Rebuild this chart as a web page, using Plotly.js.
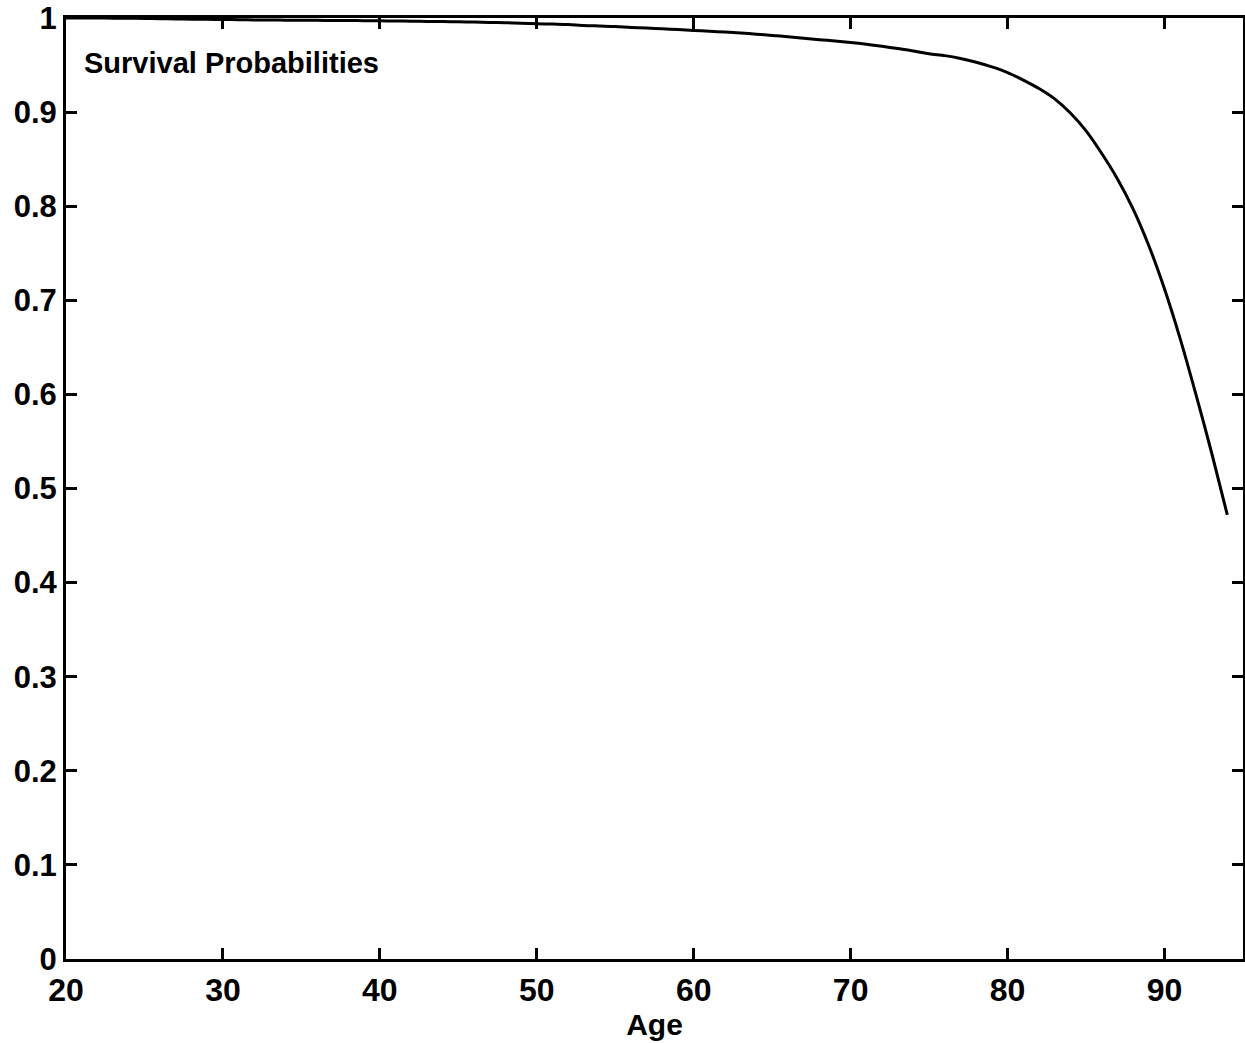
<!DOCTYPE html>
<html>
<head>
<meta charset="utf-8">
<script src="https://cdn.plot.ly/plotly-3.0.1.min.js"></script>
<style>html,body{margin:0;padding:0;background:#fff;}#chart{width:1245px;height:1043px;}</style>
</head>
<body>
<div id="chart"></div>
<script>
const ages = [20,21,22,23,24,25,26,27,28,29,30,31,32,33,34,35,36,37,38,39,40,41,42,43,44,45,46,47,48,49,50,51,52,53,54,55,56,57,58,59,60,61,62,63,64,65,66,67,68,69,70,71,72,73,74,75,76,77,78,79,80,81,82,83,84,85,86,87,88,89,90,91,92,93,94];
const survival = [1.0,1.0,1.0,0.9998,0.9997,0.9995,0.9993,0.999,0.9988,0.9986,0.9984,0.9982,0.998,0.9978,0.9977,0.9976,0.9975,0.9974,0.9973,0.9972,0.997,0.9968,0.9966,0.9964,0.9962,0.996,0.9957,0.9953,0.995,0.9945,0.994,0.9935,0.993,0.992,0.9915,0.991,0.990,0.9893,0.9885,0.9877,0.9868,0.986,0.985,0.984,0.9828,0.9815,0.980,0.9785,0.977,0.9755,0.974,0.9722,0.970,0.9675,0.965,0.962,0.960,0.957,0.953,0.948,0.942,0.934,0.925,0.914,0.899,0.880,0.856,0.829,0.797,0.758,0.712,0.659,0.600,0.538,0.472];
const xTicks = [20,30,40,50,60,70,80,90];
const yTicks = [0,0.1,0.2,0.3,0.4,0.5,0.6,0.7,0.8,0.9,1];
const yTickText = ['0','0.1','0.2','0.3','0.4','0.5','0.6','0.7','0.8','0.9','1'];
const labelText = 'Survival Probabilities';
const xTitle = 'Age';

const fontFam = 'Liberation Sans, Arial, sans-serif';
Plotly.newPlot('chart', [{
  x: ages, y: survival, type: 'scatter', mode: 'lines',
  line: {color: '#000', width: 3, shape: 'spline', smoothing: 0.8}, showlegend: false, hoverinfo: 'skip'
}], {
  width: 1245, height: 1043,
  margin: {l: 66, r: 2, t: 18, b: 84},
  paper_bgcolor: '#fff', plot_bgcolor: '#fff',
  xaxis: {
    range: [20, 95], tickvals: xTicks, ticktext: xTicks.map(String),
    ticks: 'inside', ticklen: 11, tickwidth: 3, tickcolor: '#000',
    showline: true, linewidth: 3, linecolor: '#000', mirror: 'ticks',
    showgrid: false, zeroline: false, ticklabelstandoff: 1,
    tickfont: {family: fontFam, size: 32, color: '#000', weight: 'bold'},
    title: {text: xTitle, font: {family: fontFam, size: 30, color: '#000', weight: 'bold'}, standoff: 6}
  },
  yaxis: {
    range: [0, 1], tickvals: yTicks, ticktext: yTickText,
    ticks: 'inside', ticklen: 11, tickwidth: 3, tickcolor: '#000',
    showline: true, linewidth: 3, linecolor: '#000', mirror: 'ticks',
    showgrid: false, zeroline: false,
    tickfont: {family: fontFam, size: 31, color: '#000', weight: 'bold'}
  },
  annotations: [{
    xref: 'paper', yref: 'paper', x: 0.014, y: 0.952, xanchor: 'left', yanchor: 'middle',
    text: labelText, showarrow: false,
    font: {family: fontFam, size: 29, color: '#000', weight: 'bold'}
  }]
}, {displayModeBar: false, staticPlot: true});
</script>
</body>
</html>
